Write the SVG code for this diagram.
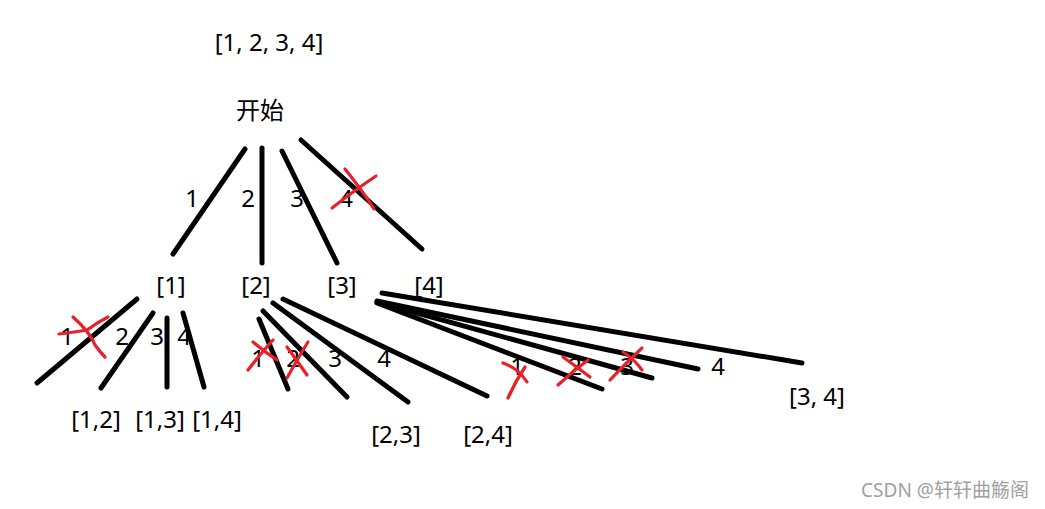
<svg xmlns="http://www.w3.org/2000/svg" width="1045" height="509" viewBox="0 0 1045 509">
<style>
.t{font-family:"Noto Sans","Noto Sans CJK SC",sans-serif;font-size:24px;fill:#000;text-anchor:middle}
.e{stroke:#000;stroke-width:5;stroke-linecap:round;fill:none}
.x{stroke:#e8202a;stroke-width:3.2;stroke-linecap:round;fill:none}
.w{font-family:"Noto Sans","Noto Sans CJK SC",sans-serif;font-size:19px;fill:#a0a0a0;text-anchor:middle}
</style>
<rect width="1045" height="509" fill="#fff"/>
<g id="connectors">
<line class="e" x1="245" y1="149" x2="173" y2="254"/>
<line class="e" x1="262" y1="148" x2="262" y2="263"/>
<line class="e" x1="282" y1="151" x2="337" y2="263"/>
<line class="e" x1="301" y1="140" x2="422" y2="249"/>
<line class="e" x1="137" y1="299" x2="37" y2="383"/>
<line class="e" x1="153" y1="313" x2="101" y2="388"/>
<line class="e" x1="167" y1="318" x2="167" y2="387"/>
<line class="e" x1="183" y1="313" x2="204" y2="387"/>
<line class="e" x1="259" y1="319" x2="288" y2="389"/>
<line class="e" x1="263" y1="311" x2="347" y2="397"/>
<line class="e" x1="273" y1="303" x2="408" y2="402"/>
<line class="e" x1="283" y1="299" x2="487" y2="396"/>
<line class="e" x1="382" y1="293" x2="802" y2="363"/>
<line class="e" x1="377" y1="301" x2="698" y2="369"/>
<line class="e" x1="377" y1="302" x2="652" y2="378"/>
<line class="e" x1="377" y1="303" x2="602" y2="389"/>
</g>
<g id="n-root-list"><text class="t" x="269" y="51">[1, 2, 3, 4]</text></g>
<g id="n-start"><text class="t" x="260" y="119">开始</text></g>
<g id="l1">
<text class="t" x="192" y="207">1</text>
<text class="t" x="248" y="207">2</text>
<text class="t" x="297" y="207">3</text>
<text class="t" x="346" y="207">4</text>
</g>
<g id="n-1"><text class="t" x="171" y="294">[1]</text></g>
<g id="n-2"><text class="t" x="256" y="294">[2]</text></g>
<g id="n-3"><text class="t" x="342" y="294">[3]</text></g>
<g id="n-4"><text class="t" x="429" y="294">[4]</text></g>
<g id="l2">
<text class="t" x="67" y="345">1</text>
<text class="t" x="122" y="345">2</text>
<text class="t" x="157" y="345">3</text>
<text class="t" x="184" y="345">4</text>
<text class="t" x="258" y="367">1</text>
<text class="t" x="293" y="367">2</text>
<text class="t" x="335" y="367">3</text>
<text class="t" x="384" y="367">4</text>
<text class="t" x="517" y="375">1</text>
<text class="t" x="575" y="375">2</text>
<text class="t" x="627" y="375">3</text>
<text class="t" x="718" y="375">4</text>
</g>
<g id="n-12"><text class="t" x="96" y="428">[1,2]</text></g>
<g id="n-13"><text class="t" x="160" y="428">[1,3]</text></g>
<g id="n-14"><text class="t" x="217" y="428">[1,4]</text></g>
<g id="n-23"><text class="t" x="396" y="443">[2,3]</text></g>
<g id="n-24"><text class="t" x="488" y="443">[2,4]</text></g>
<g id="n-34"><text class="t" x="817" y="405">[3, 4]</text></g>
<g id="crosses">
<path class="x" d="M332 208 Q355 190 376 176"/>
<path class="x" d="M345 169 Q362 190 374 209"/>
<path class="x" d="M59 334 Q75 332 87 330 Q98 322 108 317"/>
<path class="x" d="M73 317 Q90 332 95 345 Q100 352 105 357"/>
<path class="x" d="M248 370 Q262 352 273 340"/>
<path class="x" d="M253 342 Q265 352 277 360"/>
<path class="x" d="M287 378 Q298 358 308 342"/>
<path class="x" d="M287 347 Q298 362 307 375"/>
<path class="x" d="M503 363 Q518 368 527 382"/>
<path class="x" d="M525 367 Q515 382 508 398"/>
<path class="x" d="M563 357 Q578 368 590 377"/>
<path class="x" d="M588 360 Q572 372 558 385"/>
<path class="x" d="M623 352 Q635 360 642 370"/>
<path class="x" d="M642 348 Q625 364 610 380"/>
</g>
<g id="watermark"><text class="w" x="945" y="497">CSDN @轩轩曲觞阁</text></g>
</svg>
